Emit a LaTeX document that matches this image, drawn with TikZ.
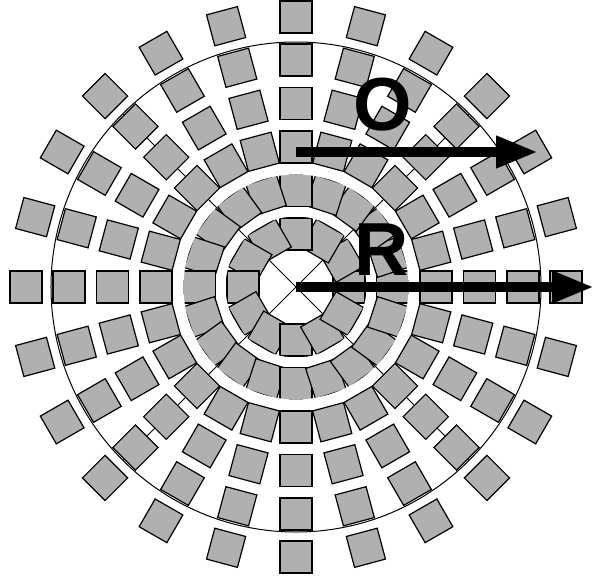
\documentclass[tikz,border=0pt]{standalone}
\usepackage{fontspec}
\setsansfont{Liberation Sans}
\usetikzlibrary{arrows.meta}
\definecolor{tilegray}{RGB}{176,176,176}
\tikzset{
  tilebox/.style={draw=black, fill=tilegray, line width=0.06cm},
  guideline/.style={draw=black, line width=0.05cm},
  ringgap/.style={draw=white, line width=0.45cm},
  bigarrow/.style={line width=0.5cm, -{Triangle[length=2.1cm,width=1.5cm]}},
  biglabel/.style={font=\sffamily\bfseries\fontsize{107}{107}\selectfont, inner sep=0pt}
}

\begin{document}
\begin{tikzpicture}[x=0.05cm, y=0.05cm]
\useasboundingbox (-296,-290) rectangle (296,287);
\fill[white] (-296,-290) rectangle (296,287);
% centre, guide circle and diagonals
\coordinate (c) at (0,0);
\draw[guideline] (c) circle (245);
\foreach \a in {45,135,225,315}
  \draw[guideline] (c) -- (\a:245);
% inner rings: fewer tiles, overlapping
\foreach \a in {0,30,...,330}
  \draw[tilebox, rotate=\a] (37,-16) rectangle (69,16);
\foreach \a in {0,18,...,342}
  \draw[tilebox, rotate=\a] (80.5,-16) rectangle (112.5,16);
% outer rings, 24 tiles each
\foreach \r in {140,183.5,227,270}
  \foreach \a in {0,15,...,345}
    \draw[tilebox, rotate=\a] (\r-16,-16) rectangle (\r+16,16);
% white gaps between the inner rings
\draw[ringgap] (c) circle (75);
\draw[ringgap] (c) circle (117);
\foreach \a in {45,135,225,315} {
  \draw[guideline] (\a:70) -- (\a:80);
  \draw[guideline] (\a:112) -- (\a:122);
}
% arrows and labels
\coordinate (Ostart) at (0,135);
\coordinate (Otip) at (242,135);
\coordinate (Rtip) at (298,0);
\draw[bigarrow] (Ostart) -- (Otip);
\draw[bigarrow] (c) -- (Rtip);
\node[biglabel] (O) at (87,182) {O};
\node[biglabel] (R) at (85.5,37) {R};
\end{tikzpicture}
\end{document}
